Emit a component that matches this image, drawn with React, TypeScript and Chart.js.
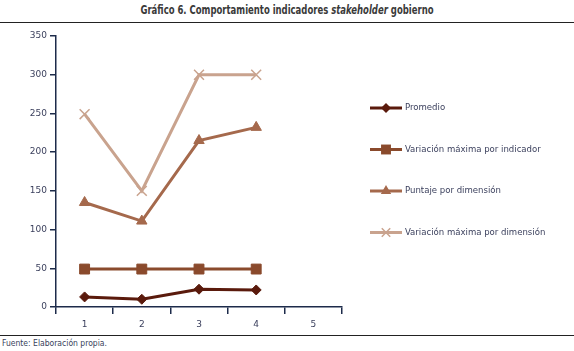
import React, { useEffect, useRef } from "react";
import { Chart, registerables } from "chart.js";

Chart.register(...registerables);

const categories = ["1", "2", "3", "4", "5"];
const promedio = [13, 10, 23, 22, null];
const variacionIndicador = [49, 49, 49, 49, null];
const puntajeDimension = [135, 111, 215, 232, null];
const variacionDimension = [249, 150, 300, 300, null];
const seriesNames = [
  "Promedio",
  "Variación máxima por indicador",
  "Puntaje por dimensión",
  "Variación máxima por dimensión",
];
const yTicksMax = 350;
const yStep = 50;

const AXIS = "#1d2b4a";
const TXT = "#3a3f5c";

function drawMarker(ctx: CanvasRenderingContext2D, style: string, r: number, x: number, y: number) {
  ctx.beginPath();
  if (style === "rectRot") {
    ctx.moveTo(x, y - r);
    ctx.lineTo(x + r, y);
    ctx.lineTo(x, y + r);
    ctx.lineTo(x - r, y);
    ctx.closePath();
    ctx.fill();
  } else if (style === "rect") {
    const s = Math.SQRT1_2 * r;
    ctx.rect(x - s, y - s, 2 * s, 2 * s);
    ctx.fill();
  } else if (style === "triangle") {
    const h = r * 1.5;
    const side = r * Math.sqrt(3);
    ctx.moveTo(x, y - r);
    ctx.lineTo(x + side / 2, y - r + h);
    ctx.lineTo(x - side / 2, y - r + h);
    ctx.closePath();
    ctx.fill();
  } else {
    const d = r * Math.SQRT1_2;
    ctx.moveTo(x - d, y - d);
    ctx.lineTo(x + d, y + d);
    ctx.moveTo(x + d, y - d);
    ctx.lineTo(x - d, y + d);
    ctx.stroke();
  }
}

const legendPlugin = {
  id: "sideLegend",
  afterDraw(chart: any) {
    const ctx = chart.ctx;
    const ca = chart.chartArea;
    const x0 = ca.right + 28;
    const y0 = ca.top + 72;
    const step = 41.5;
    chart.data.datasets.forEach((ds: any, i: number) => {
      const y = y0 + i * step;
      ctx.save();
      ctx.strokeStyle = ds.borderColor;
      ctx.lineWidth = ds.borderWidth;
      ctx.beginPath();
      ctx.moveTo(x0, y);
      ctx.lineTo(x0 + 32, y);
      ctx.stroke();
      ctx.restore();
      ctx.save();
      ctx.fillStyle = ds.pointBackgroundColor;
      ctx.strokeStyle = ds.pointBorderColor;
      ctx.lineWidth = ds.pointStyle === "crossRot" ? 1.5 : 1;
      const r = ds.pointStyle === "crossRot" ? 6 : ds.pointRadius;
      drawMarker(ctx, ds.pointStyle, r, x0 + 16, y);
      ctx.restore();
      ctx.save();
      ctx.fillStyle = TXT;
      ctx.font = "9.5px 'DejaVu Sans Condensed', 'DejaVu Sans', sans-serif";
      ctx.textBaseline = "middle";
      ctx.textAlign = "left";
      ctx.fillText(ds.label, x0 + 35, y);
      ctx.restore();
    });
  },
};

export default function App() {
  const ref = useRef<HTMLCanvasElement>(null);

  useEffect(() => {
    document.body.style.margin = "0";
    const colors = ["#5a1a0c", "#8a4a2c", "#a5694c", "#c9a38e"];
    const styles = ["rectRot", "rect", "triangle", "crossRot"];
    const radii = [5, 7, 6, 7];
    const values = [promedio, variacionIndicador, puntajeDimension, variacionDimension];
    const chart = new Chart(ref.current as HTMLCanvasElement, {
      type: "line",
      data: {
        labels: categories,
        datasets: values.map((v, i) => ({
          label: seriesNames[i],
          data: v,
          borderColor: colors[i],
          backgroundColor: colors[i],
          pointBackgroundColor: colors[i],
          pointBorderColor: colors[i],
          borderWidth: 3,
          pointStyle: styles[i],
          pointRadius: radii[i],
          pointBorderWidth: i === 3 ? 1.5 : 1,
          tension: 0,
          spanGaps: false,
        })),
      },
      options: {
        animation: false,
        responsive: false,
        maintainAspectRatio: false,
        layout: { padding: { top: 13, right: 232, left: 0, bottom: 0 } },
        plugins: {
          legend: { display: false },
          tooltip: { enabled: false },
          title: { display: false },
        },
        scales: {
          x: {
            type: "category",
            offset: true,
            grid: {
              offset: true,
              drawOnChartArea: false,
              drawTicks: true,
              tickLength: 7,
              color: AXIS,
              lineWidth: 1.5,
            },
            border: { color: AXIS, width: 1.5 },
            ticks: {
              color: TXT,
              font: { family: "'DejaVu Sans', Verdana, sans-serif", size: 9 },
              padding: 5,
              maxRotation: 0,
            },
            afterFit(scale: any) {
              scale.height = 28;
            },
          },
          y: {
            min: 0,
            max: yTicksMax,
            ticks: {
              stepSize: yStep,
              color: TXT,
              font: { family: "'DejaVu Sans', Verdana, sans-serif", size: 9 },
              padding: 3,
            },
            grid: {
              drawOnChartArea: false,
              drawTicks: true,
              tickLength: 6,
              color: AXIS,
              lineWidth: 1.5,
            },
            border: { color: AXIS, width: 1.5 },
            afterFit(scale: any) {
              scale.width = 56;
            },
          },
        },
      },
      plugins: [legendPlugin],
    } as any);
    return () => chart.destroy();
  }, []);

  return (
    <div style={{ position: "fixed", left: 0, top: 0, width: 574, height: 351, background: "#fff", overflow: "hidden" }}>
      <div
        style={{
          position: "absolute",
          top: 3,
          left: 0,
          width: 574,
          textAlign: "center",
          fontFamily: "'DejaVu Sans Condensed', 'DejaVu Sans', sans-serif",
          fontWeight: "bold",
          fontSize: 11.5,
          color: "#3a3a3a",
          lineHeight: "15px",
          transform: "scaleX(0.82)",
          transformOrigin: "287px 50%",
          whiteSpace: "nowrap",
        }}
      >
        Gráfico 6. Comportamiento indicadores <i>stakeholder</i> gobierno
      </div>
      <div style={{ position: "absolute", top: 22, left: 0, width: 574, height: 1, background: "#222" }} />
      <canvas ref={ref} width={574} height={312} style={{ position: "absolute", top: 23, left: 0, width: 574, height: 312 }} />
      <div style={{ position: "absolute", top: 335, left: 0, width: 574, height: 1, background: "#222" }} />
      <div
        style={{
          position: "absolute",
          top: 337,
          left: 2,
          fontFamily: "'DejaVu Sans Condensed', 'DejaVu Sans', sans-serif",
          fontSize: 8.5,
          color: "#3a3f5c",
          lineHeight: "12px",
        }}
      >
        Fuente: Elaboración propia.
      </div>
    </div>
  );
}
